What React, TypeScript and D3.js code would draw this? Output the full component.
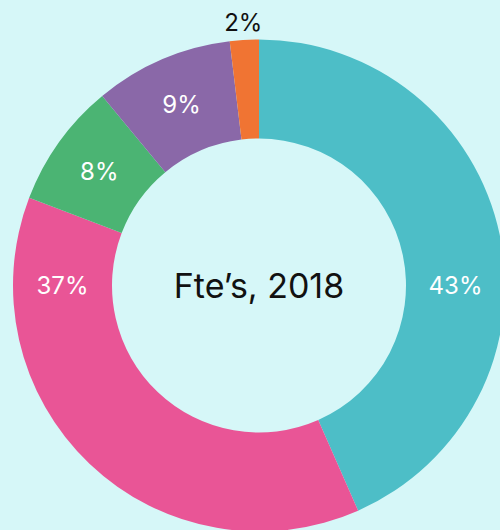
import React from "react";
import * as d3 from "d3";

const categories = ["A", "B", "C", "D", "E"];
const values = [43.4, 37.4, 8.2, 9.1, 1.9];
const colors = ["#4dbec7", "#e95596", "#4bb473", "#8a68a8", "#f07433"];
const title = "Fte’s, 2018";

const W = 500;
const H = 530;
const cx = 259;
const cy = 285.5;
const rOuter = 246;
const rInner = 147;
const FONT = "Inter, 'Open Sans', sans-serif";

export default function App() {
  const total = d3.sum(values);
  const pie = d3
    .pie<number>()
    .sort(null)
    .value((d) => d);
  const arcs = pie(values);
  const arc = d3.arc<d3.PieArcDatum<number>>().innerRadius(rInner).outerRadius(rOuter);
  const rMid = (rInner + rOuter) / 2;

  const labelPos = (a: d3.PieArcDatum<number>) => {
    const span = a.endAngle - a.startAngle;
    let ang = (a.startAngle + a.endAngle) / 2;
    if (span > (2 * Math.PI) / 3) {
      const candidates = [Math.PI / 2, (3 * Math.PI) / 2];
      for (const c of candidates) {
        if (c > a.startAngle && c < a.endAngle) ang = c;
      }
    }
    const pct = a.value / total;
    const outside = pct < 0.03;
    const r = outside ? rOuter + 17 : rMid;
    return {
      x: Math.sin(ang) * r,
      y: -Math.cos(ang) * r,
      outside,
    };
  };

  return (
    <svg
      width={W}
      height={H}
      style={{ position: "absolute", left: 0, top: 0, display: "block" }}
    >
      <rect width={W} height={H} fill="#d6f7f8" />
      <g transform={`translate(${cx},${cy})`}>
        {arcs.map((a, i) => (
          <path key={categories[i]} d={arc(a) || ""} fill={colors[i]} />
        ))}
        {arcs.map((a, i) => {
          const p = labelPos(a);
          return (
            <text
              key={"l" + categories[i]}
              x={p.x}
              y={p.y}
              textAnchor="middle"
              dominantBaseline="central"
              fontFamily={FONT}
              fontSize={24}
              fill={p.outside ? "#111" : "#fff"}
            >
              {Math.round((a.value / total) * 100)}%
            </text>
          );
        })}
        <text
          x={0}
          y={0}
          textAnchor="middle"
          dominantBaseline="central"
          fontFamily={FONT}
          fontSize={34}
          fill="#111"
        >
          {title}
        </text>
      </g>
    </svg>
  );
}
